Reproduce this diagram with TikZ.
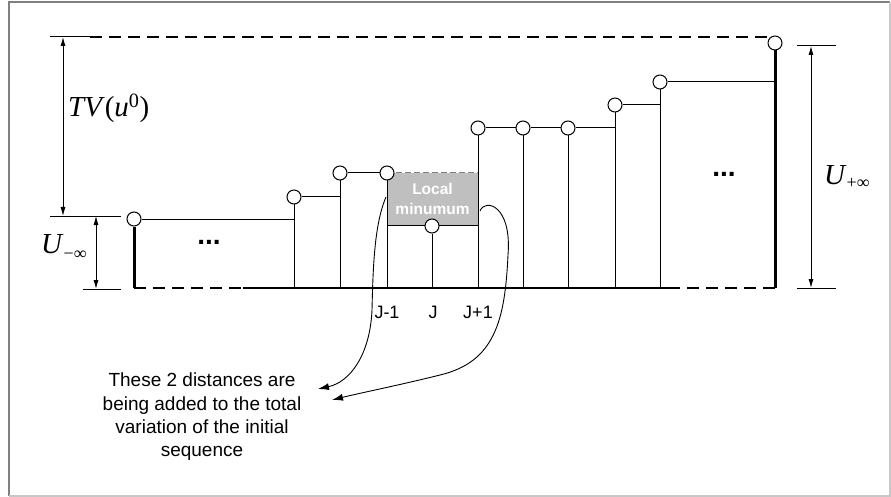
\documentclass[tikz,border=0pt]{standalone}
\usepackage{fontspec}
\setmainfont{Liberation Sans}
\newfontfamily\tms{Liberation Serif}
\usetikzlibrary{arrows.meta}
\begin{document}
\begin{tikzpicture}[x=1pt,y=-1pt,
  dot/.style={circle,draw,fill=white,line width=1pt,minimum size=14pt,inner sep=0pt},
  stemline/.style={line width=1pt},
  thickstem/.style={line width=3pt},
  dimarrow/.style={line width=0.9pt,{Latex[length=9pt,width=5pt]}-{Latex[length=9pt,width=5pt]}},
  tickline/.style={line width=1pt},
  dashline/.style={line width=1.1pt,dash pattern=on 12pt off 7pt},
  curvearrow/.style={line width=0.9pt,-{Latex[length=11pt,width=7pt]}},
  lbl/.style={font=\fontsize{18}{20}\selectfont,inner sep=1pt},
  mathlbl/.style={font=\tms\fontsize{29}{32}\selectfont,inner sep=0pt},
  dots/.style={font=\bfseries\fontsize{28}{28}\selectfont,inner sep=0pt},
]
\useasboundingbox (0,0) rectangle (891,497);
% frame
\draw[black!50,line width=1.2pt] (9,496) -- (9,2) -- (890,2);
\draw[black!22,line width=1.2pt] (9,496) -- (890,496) -- (890,2);

% baseline
\coordinate (base) at (0,288);
\coordinate (bl0) at (134,288);
\coordinate (bl1) at (243,288);
\coordinate (bl2) at (668,288);
\coordinate (bl3) at (775,288);
\draw[dashline] (bl0) -- (bl1);
\draw[line width=1.1pt] (bl1) -- (bl2);
\draw[dashline] (bl2) -- (bl3);

% local minimum box
\node[fill=black!25,minimum width=91pt,minimum height=52pt,inner sep=0pt,
      text=white,align=center,font=\bfseries\fontsize{15.5}{20}\selectfont] (lm) at (432.5,199) {Local\\minumum};
\draw[black!50,line width=0.8pt,dash pattern=on 6pt off 3pt] (lm.north west) -- (lm.north east);
\draw[line width=1pt] (lm.south west) -- (lm.south east);

% sample points
\node[dot] (p1) at (134,219) {};
\node[dot] (p2) at (294,197) {};
\node[dot] (p3) at (340,173) {};
\node[dot] (p4) at (387,173) {};
\node[dot] (p5) at (432,226) {};
\node[dot] (p6) at (478,128) {};
\node[dot] (p7) at (523,128) {};
\node[dot] (p8) at (568,128) {};
\node[dot] (p9) at (615,105) {};
\node[dot] (p10) at (660,82) {};
\node[dot] (p11) at (775,43) {};

% stems
\draw[thickstem] (p1) -- (p1 |- base);
\foreach \p in {p2,p3,p4,p5,p6,p7,p8,p9,p10}{\draw[stemline] (\p) -- (\p |- base);}
\draw[thickstem] (p11) -- (p11 |- base);

% steps
\draw[stemline] (p1) -- (p1 -| p2);
\draw[stemline] (p2) -- (p2 -| p3);
\draw[stemline] (p3) -- (p4);
\draw[stemline] (p6) -- (p7);
\draw[stemline] (p7) -- (p8);
\draw[stemline] (p8) -- (p8 -| p9);
\draw[stemline] (p9) -- (p9 -| p10);
\draw[stemline] (p10) -- (p10 -| p11);

% ellipses
\node[dots] (e1) at (209,242) {...};
\node[dots] (e2) at (724,174) {...};

% top dashed line
\coordinate (t0) at (50,37);
\coordinate (t1a) at (90,37);
\coordinate (t2a) at (768,37);
\draw[tickline] (t0) -- (t1a);
\draw[dashline] (t1a) -- (t2a);

% left dimensions
\coordinate (l1) at (50,216);
\coordinate (l2) at (121,216);
\coordinate (l3) at (83,289);
\coordinate (l4) at (121,289);
\draw[tickline] (l1) -- (l2);
\draw[tickline] (l3) -- (l4);
\coordinate (a1) at (63,37);
\coordinate (a2) at (63,216);
\coordinate (a3) at (96,216);
\coordinate (a4) at (96,289);
\draw[dimarrow] (a1) -- (a2);
\draw[dimarrow] (a3) -- (a4);
\node[mathlbl,anchor=base west] (tv) at (68,117) {\textit{TV}(\textit{u}\textsuperscript{0})};
\node[mathlbl,anchor=base west] (um) at (41,253) {\textit{U}\raisebox{-6pt}{\fontsize{18}{18}\selectfont −∞}};

% right dimension
\coordinate (r1) at (797,46);
\coordinate (r2) at (836,46);
\coordinate (r3) at (797,288);
\coordinate (r4) at (836,288);
\draw[tickline] (r1) -- (r2);
\draw[tickline] (r3) -- (r4);
\coordinate (ra) at (811,46);
\coordinate (rb) at (811,288);
\draw[dimarrow] (ra) -- (rb);
\node[mathlbl,anchor=base west] (up) at (824,185) {\textit{U}\raisebox{-4pt}{\fontsize{18}{18}\selectfont +∞}};

% index labels
\node[lbl] (jm) at (387,312) {J-1};
\node[lbl] (j0) at (433,312) {J};
\node[lbl] (jp) at (478,312) {J+1};

% note
\node[align=center,font=\fontsize{19}{23.3}\selectfont,inner sep=0pt] (note) at (202,417)
  {These 2 distances are\\being added to the total\\variation of the initial\\sequence};

% curved arrows
\coordinate (c1s) at (386,197);
\coordinate (c1e) at (318,389);
\coordinate (c2s) at (480,211);
\coordinate (c2e) at (332,400);
\draw[curvearrow] (c1s) .. controls (374,225) and (373,270) .. (372,310)
   .. controls (370,355) and (350,382) .. (c1e);
\draw[curvearrow] (c2s) .. controls (485,198) and (512,205) .. (508,255)
   .. controls (505,320) and (495,362) .. (440,375)
   .. controls (400,385) and (360,393) .. (c2e);
\end{tikzpicture}
\end{document}
